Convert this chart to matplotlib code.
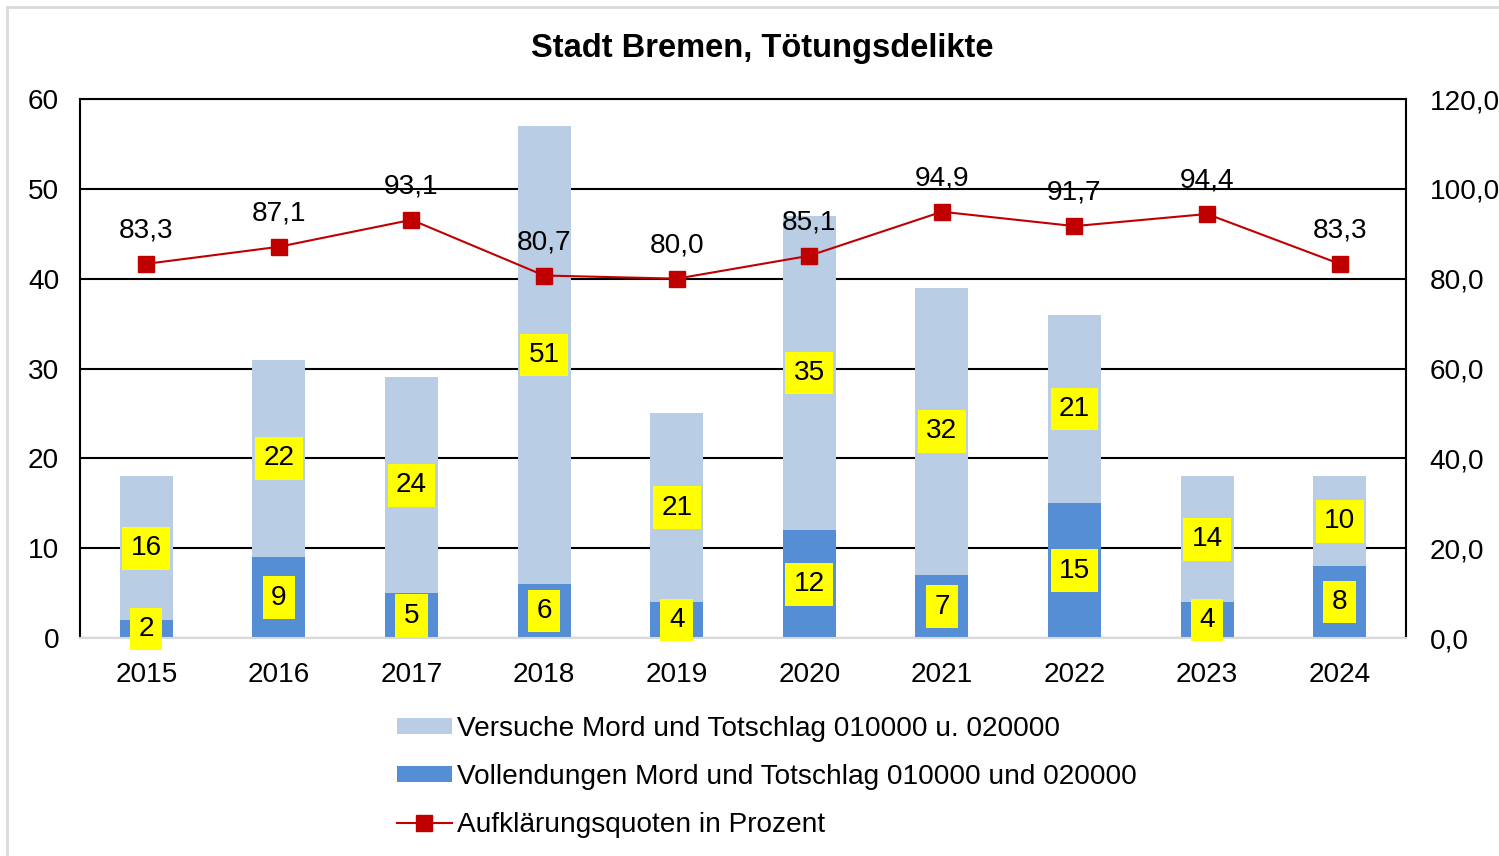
import numpy as np
import matplotlib
matplotlib.use('Agg')
from matplotlib import pyplot as plt
from matplotlib.patches import Rectangle
from matplotlib.lines import Line2D
from matplotlib.patches import Patch

plt.rcParams['font.family'] = ['Liberation Sans', 'DejaVu Sans']

jahre = ['2015', '2016', '2017', '2018', '2019', '2020', '2021', '2022', '2023', '2024']
vollendungen = [2, 9, 5, 6, 4, 12, 7, 15, 4, 8]
versuche = [16, 22, 24, 51, 21, 35, 32, 21, 14, 10]
quote = [83.3, 87.1, 93.1, 80.7, 80.0, 85.1, 94.9, 91.7, 94.4, 83.3]

HELL = '#B9CDE5'
DUNKEL = '#558ED5'
ROT = '#C00000'
FS = 20.2

def komma(v):
    return ('%.1f' % v).replace('.', ',')

fig = plt.figure(figsize=(14.99, 8.56), dpi=100)
# grauer Rahmen (rechts/unten abgeschnitten)
fig.patches.append(Rectangle((7/1499, -0.1), 1.2, 1 - 7/856 + 0.1, transform=fig.transFigure,
                             fill=False, edgecolor='#D9D9D9', lw=2))

ax = fig.add_axes([80/1499, 218/856, 1326/1499, 539/856])
x = np.arange(len(jahre))
w = 0.40

ax.set_axisbelow(True)
ax.bar(x, vollendungen, w, color=DUNKEL, zorder=2)
ax.bar(x, versuche, w, bottom=vollendungen, color=HELL, zorder=2)

ax.set_xlim(-0.5, len(jahre) - 0.5)
ax.set_ylim(0, 60)
ax.set_yticks(range(0, 61, 10))
ax.yaxis.grid(True, color='black', lw=1.5)
ax.set_xticks(x)
ax.set_xticklabels(jahre)
ax.tick_params(axis='both', length=0, labelsize=FS)
ax.tick_params(axis='y', pad=15)
ax.tick_params(axis='x', pad=17)
for s in ['top', 'left', 'right']:
    ax.spines[s].set_color('black')
    ax.spines[s].set_linewidth(1.5)
ax.spines['bottom'].set_color('#D9D9D9')
ax.spines['bottom'].set_linewidth(1.5)

box = dict(boxstyle='square,pad=0.3', facecolor='#FFFF00', edgecolor='none')
for i in range(len(jahre)):
    ax.text(x[i], vollendungen[i] / 2, str(vollendungen[i]), ha='center', va='center',
            fontsize=FS, bbox=box, zorder=5)
    ax.text(x[i], vollendungen[i] + versuche[i] / 2, str(versuche[i]), ha='center', va='center',
            fontsize=FS, bbox=box, zorder=5)

ax2 = ax.twinx()
ax2.set_ylim(0, 120)
ax2.set_yticks(range(0, 121, 20))
ax2.set_yticklabels([komma(v) for v in range(0, 121, 20)])
ax2.tick_params(axis='y', length=0, labelsize=FS, pad=17)
for s in ax2.spines.values():
    s.set_visible(False)
ax2.plot(x, quote, color=ROT, lw=1.5, marker='s', markersize=11, zorder=4)
for i in range(len(jahre)):
    ax2.annotate(komma(quote[i]), (x[i], quote[i]), xytext=(0, 24), textcoords='offset points',
                 ha='center', va='center', fontsize=FS)

fig.text(762/1499, 1 - 48/856, 'Stadt Bremen, Tötungsdelikte', ha='center', va='center',
         fontsize=23.5, fontweight='bold')

handles = [Patch(facecolor=HELL, edgecolor='none'),
           Patch(facecolor=DUNKEL, edgecolor='none'),
           Line2D([], [], color=ROT, lw=1.5, marker='s', markersize=11)]
labels = ['Versuche Mord und Totschlag 010000 u. 020000',
          'Vollendungen Mord und Totschlag 010000 und 020000',
          'Aufklärungsquoten in Prozent']
fig.legend(handles, labels, loc='center', bbox_to_anchor=(767/1499, 1 - 777/856),
           frameon=False, fontsize=FS, handlelength=1.95, handleheight=0.5,
           handletextpad=0.2, labelspacing=0.8)

fig.savefig('out.png', dpi=100)
